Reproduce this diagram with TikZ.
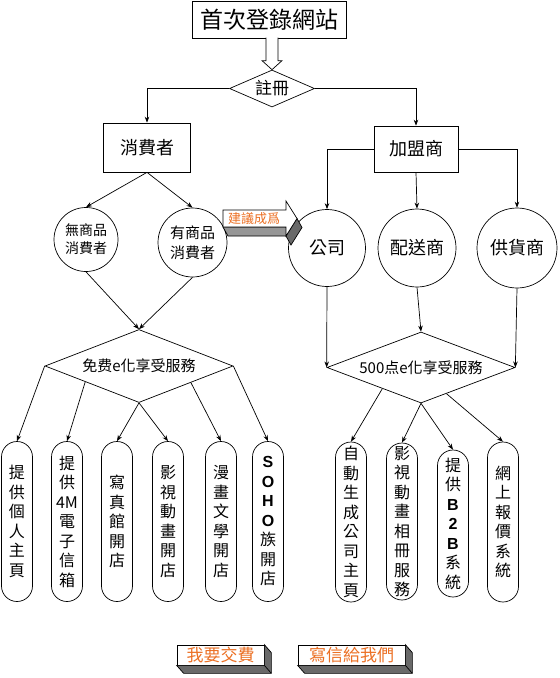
\documentclass[tikz,border=0pt]{standalone}
\usepackage{fontspec}
\setmainfont{Noto Sans CJK TC}
\newfontfamily\lat{Liberation Sans}
\newcommand\latb[1]{{\lat\bfseries #1}}
\usetikzlibrary{arrows.meta,shapes.geometric,calc}
\definecolor{orng}{RGB}{236,112,36}
\definecolor{shdA}{RGB}{150,150,150}
\definecolor{shdB}{RGB}{105,105,105}
\begin{document}
\begin{tikzpicture}[x=1pt,y=-1pt,line width=0.7pt,
  every node/.style={inner sep=0pt},
  arr/.style={-{Stealth[length=6pt,width=4.5pt]}},
  boxnode/.style={draw,rectangle,font=\fontsize{18}{20}\selectfont},
  circnode/.style={draw,circle,align=center},
  dia/.style={draw,diamond},
  capsule/.style={draw,rectangle,rounded corners=15.5pt,minimum width=31pt,align=center,font=\fontsize{16}{19.5}\selectfont},
  btn/.style={draw,fill=white,minimum height=20pt,text=orng,font=\fontsize{17}{19}\selectfont}]
\fill[white] (0,0) rectangle (560,678);
\useasboundingbox (0,0) rectangle (560,678);

% top
\node[boxnode,minimum width=154pt,minimum height=37pt,font=\fontsize{23}{26}\selectfont] (title) at (269,19.5) {首次登錄網站};
\node[dia,minimum width=85pt,minimum height=37pt,shape aspect=2.3,font=\fontsize{17}{19}\selectfont] (reg) at (272,88.5) {註冊};
\draw[fill=white,shift={(reg.north)}] (-6,-32) -- (-6,-9) -- (-10,-9) -- (0,0) -- (10,-9) -- (6,-9) -- (6,-32);

\node[boxnode,minimum width=87pt,minimum height=49pt] (cons) at (147,147.5) {消費者};
\node[boxnode,minimum width=84pt,minimum height=46pt] (fran) at (416,149) {加盟商};
\draw[arr] (reg.west) -| (cons.north);
\draw[arr] (reg.east) -| (fran.north);

% circles
\node[circnode,minimum size=64pt,font=\fontsize{14}{18}\selectfont] (c1) at (86,239.5) {無商品\\消費者};
\node[circnode,minimum size=69pt,font=\fontsize{15}{20}\selectfont] (c2) at (192.5,242.5) {有商品\\消費者};
\node[circnode,minimum size=77pt,font=\fontsize{18}{20}\selectfont] (k1) at (327,248) {公司};
\node[circnode,minimum size=78pt,font=\fontsize{18}{20}\selectfont] (k2) at (417,248) {配送商};
\node[circnode,minimum size=80pt,font=\fontsize{18}{20}\selectfont] (k3) at (517,248) {供貨商};
\draw[arr] (cons.south) -- (c1.north);
\draw[arr] (cons.south) -- (c2.north);
\draw[arr] (fran.west) -| (k1.north);
\draw[arr] (fran.south) -- (k2.north);
\draw[arr] (fran.east) -| (k3.north);

% advice arrow
\draw[fill=shdA] (223,227) -- (286,227) -- (291,236) -- (228,236) -- cycle;
\draw[fill=shdB] (286,236) -- (297,218.5) -- (302,227.5) -- (291,245) -- cycle;
\draw[fill=white] (223,210) -- (286,210) -- (286,201) -- (297,218.5) -- (286,236) -- (286,227) -- (223,227) -- cycle;
\node[text=orng,font=\fontsize{13}{15}\selectfont] (adv) at (254,218.5) {建議成爲};

% diamonds
\node[dia,minimum width=188pt,minimum height=73pt,shape aspect=2.575,font=\fontsize{15}{17}\selectfont] (d1) at (139,366) {免费e化享受服務};
\node[dia,minimum width=188pt,minimum height=71pt,shape aspect=2.65,font=\fontsize{15}{17}\selectfont] (d2) at (421,367.5) {500点e化享受服務};
\draw[arr] (c1.south) -- (d1.north);
\draw[arr] (c2.south) -- (d1.north);
\draw[arr] (k1.south) -- (d2.west);
\draw[arr] (k2.south) -- (d2.north);
\draw[arr] (k3.south) -- (d2.east);

% left capsules
\node[capsule,minimum height=160pt] (L1) at (17,521.5) {提\\供\\個\\人\\主\\頁};
\node[capsule,minimum height=160pt] (L2) at (67,521.5) {提\\供\\4M\\電\\子\\信\\箱};
\node[capsule,minimum height=160pt] (L3) at (117,521.5) {寫\\真\\館\\開\\店};
\node[capsule,minimum height=160pt] (L4) at (168,521.5) {影\\視\\動\\畫\\開\\店};
\node[capsule,minimum height=160pt] (L5) at (221,521.5) {漫\\畫\\文\\學\\開\\店};
\node[capsule,minimum height=160pt] (L6) at (268,521.5) {\latb{S}\\\latb{O}\\\latb{H}\\\latb{O}\\族\\開\\店};
\draw[arr] (d1.west) -- (L1.north);
\draw[arr] ($(d1.west)!0.43!(d1.south)$) -- (L2.north);
\draw[arr] (d1.south) -- (L3.north);
\draw[arr] (d1.south) -- (L4.north);
\draw[arr] ($(d1.south)!0.55!(d1.east)$) -- (L5.north);
\draw[arr] (d1.east) -- (L6.north);

% right capsules
\node[capsule,minimum height=160pt] (R1) at (351,522) {自\\動\\生\\成\\公\\司\\主\\頁};
\node[capsule,minimum height=157pt] (R2) at (402,521.5) {影\\視\\動\\畫\\相\\冊\\服\\務};
\node[capsule,minimum height=147pt] (R3) at (453,523.5) {提\\供\\\latb{B}\\\latb{2}\\\latb{B}\\系\\統};
\node[capsule,minimum height=160pt] (R4) at (503,522) {網\\上\\報\\價\\系\\統};
\draw[arr] ($(d2.west)!0.59!(d2.south)$) -- (R1.north);
\draw[arr] (d2.south) -- (R2.north);
\draw[arr] (d2.south) -- (R3.north);
\draw[arr] ($(d2.south)!0.27!(d2.east)$) -- (R4.north);

% buttons
\node[btn,minimum width=87pt] (b1) at (220.5,655) {我要交費};
\node[btn,minimum width=107pt] (b2) at (351.5,655) {寫信給我們};
\foreach \b in {b1,b2}{
  \draw[fill=shdB] (\b.north east) -- ($(\b.north east)+(7,8)$) -- ($(\b.south east)+(7,8)$) -- ($(\b.south west)+(7,8)$) -- (\b.south west) -- (\b.south east) -- cycle;
  \draw (\b.south east) -- ($(\b.south east)+(7,8)$);
}
\end{tikzpicture}
\end{document}
